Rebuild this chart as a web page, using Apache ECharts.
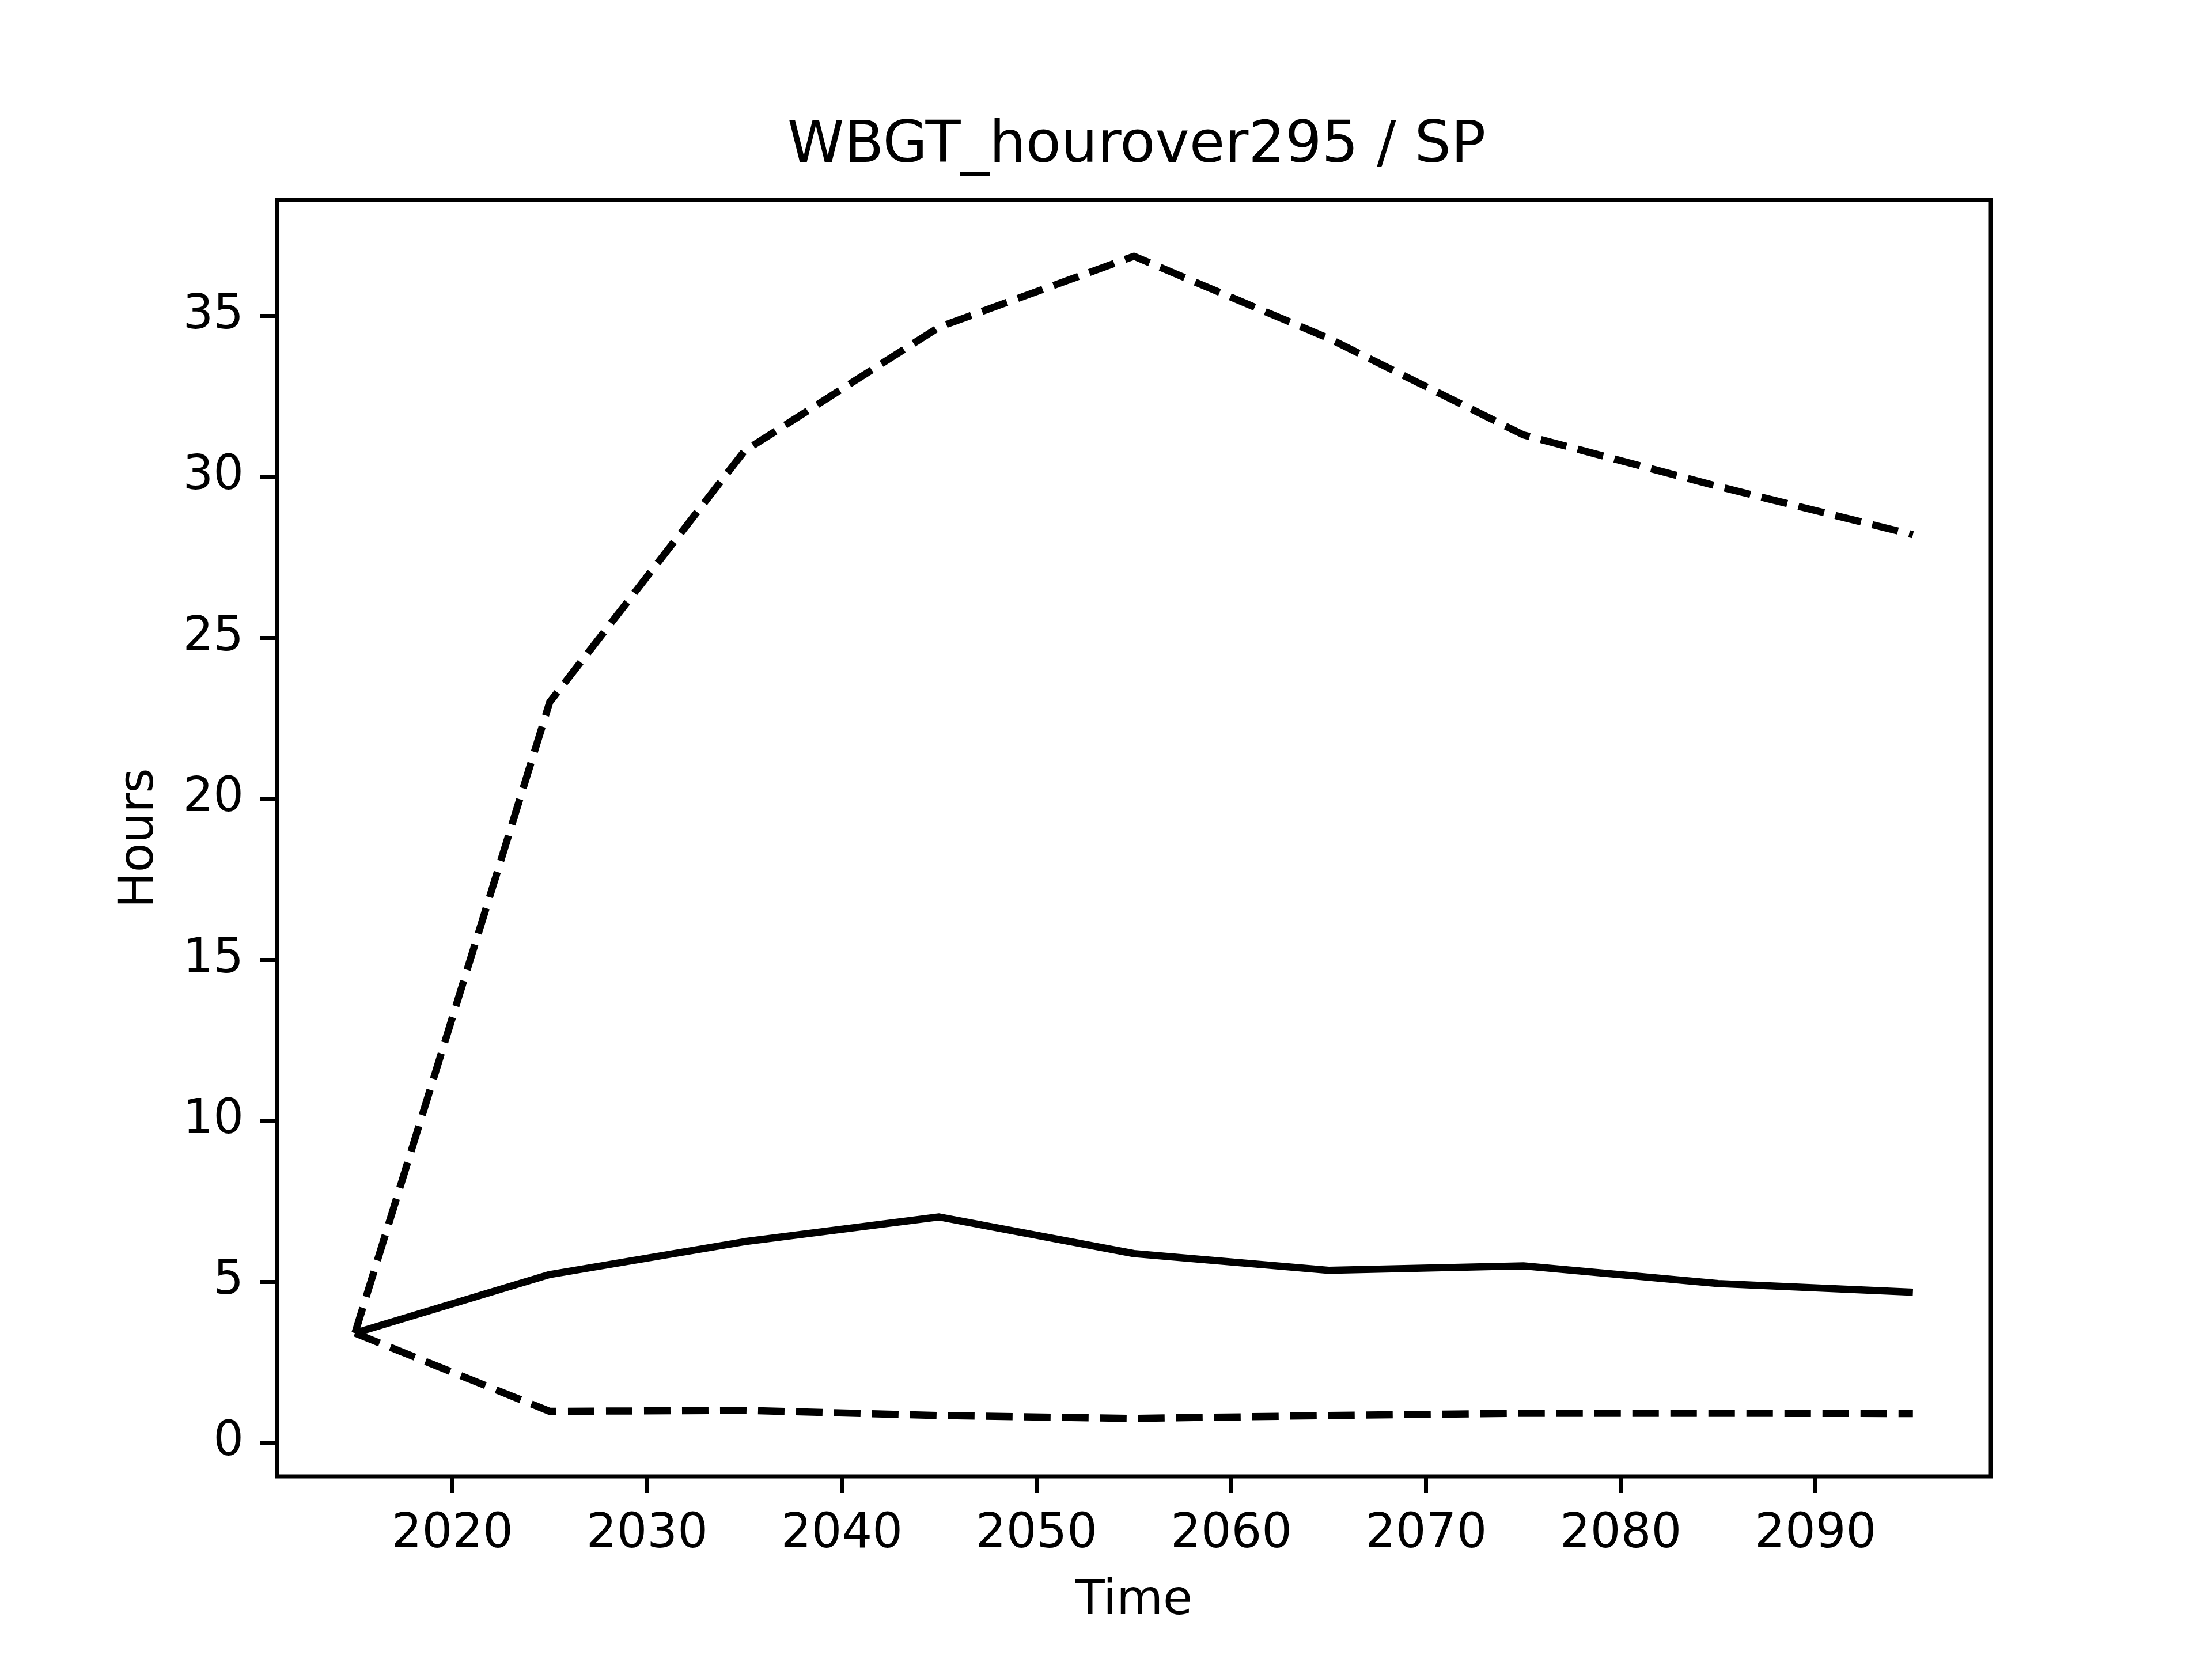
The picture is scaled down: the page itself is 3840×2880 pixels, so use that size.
<!DOCTYPE html>
<html><head><meta charset="utf-8">
<script src="https://cdn.jsdelivr.net/npm/echarts@6/dist/echarts.min.js"></script>
<style>html,body{margin:0;padding:0;background:#fff}#c{width:3840px;height:2880px}</style>
</head><body><div id="c"></div>
<script>
const years = [2015, 2025, 2035, 2045, 2055, 2065, 2075, 2085, 2095];
const upper = [3.4, 23.0, 30.8, 34.65, 36.85, 34.3, 31.3, 29.7, 28.2];
const median = [3.4, 5.22, 6.24, 7.01, 5.87, 5.35, 5.49, 4.94, 4.67];
const lower = [3.4, 0.97, 1.0, 0.84, 0.75, 0.84, 0.91, 0.91, 0.90];
const xTicks = [2020, 2030, 2040, 2050, 2060, 2070, 2080, 2090];
const yTicks = [0, 5, 10, 15, 20, 25, 30, 35];

const pair = arr => years.map((y, i) => [y, arr[i]]);
const FONT = 'DejaVu Sans';
const lw = 12.5;
const chart = echarts.init(document.getElementById('c'), null, {renderer: 'canvas'});
chart.setOption({
  animation: false,
  backgroundColor: '#fff',
  title: {
    text: 'WBGT_hourover295 / SP',
    left: 1968, top: 200, textAlign: 'center',
    textStyle: {fontFamily: FONT, fontSize: 100, fontWeight: 'normal', color: '#000'}
  },
  grid: {left: 481, right: 384, top: 347, bottom: 317, show: true, borderColor: '#000', borderWidth: 7, backgroundColor: 'transparent'},
  xAxis: {
    type: 'value', min: 2011, max: 2099,
    name: 'Time', nameLocation: 'middle', nameGap: 176,
    nameTextStyle: {fontFamily: FONT, fontSize: 83, color: '#000', verticalAlign: 'top'},
    axisLine: {show: false, onZero: false},
    splitLine: {show: false},
    axisTick: {show: true, length: 29, inside: false, lineStyle: {color: '#000', width: 7}, customValues: xTicks},
    axisLabel: {fontFamily: FONT, fontSize: 83, color: '#000', margin: 60, customValues: xTicks, formatter: v => String(v)}
  },
  yAxis: {
    type: 'value', min: -1.05, max: 38.6,
    name: 'Hours', nameLocation: 'middle', nameGap: 196,
    nameTextStyle: {fontFamily: FONT, fontSize: 83, color: '#000', padding: [0, 0, 0, 0]},
    axisLine: {show: false, onZero: false},
    splitLine: {show: false},
    axisTick: {show: true, length: 29, inside: false, lineStyle: {color: '#000', width: 7}, customValues: yTicks},
    axisLabel: {fontFamily: FONT, fontSize: 83, color: '#000', margin: 58, customValues: yTicks, formatter: v => String(v)}
  },
  series: [
    {type: 'line', data: pair(upper), showSymbol: false, symbol: 'none', lineStyle: {color: '#000', width: lw, type: [46, 20], cap: 'butt', join: 'round'}},
    {type: 'line', data: pair(median), showSymbol: false, symbol: 'none', lineStyle: {color: '#000', width: lw, type: 'solid', cap: 'butt', join: 'round'}},
    {type: 'line', data: pair(lower), showSymbol: false, symbol: 'none', lineStyle: {color: '#000', width: lw, type: [46, 20], cap: 'butt', join: 'round'}}
  ]
});
</script></body></html>
